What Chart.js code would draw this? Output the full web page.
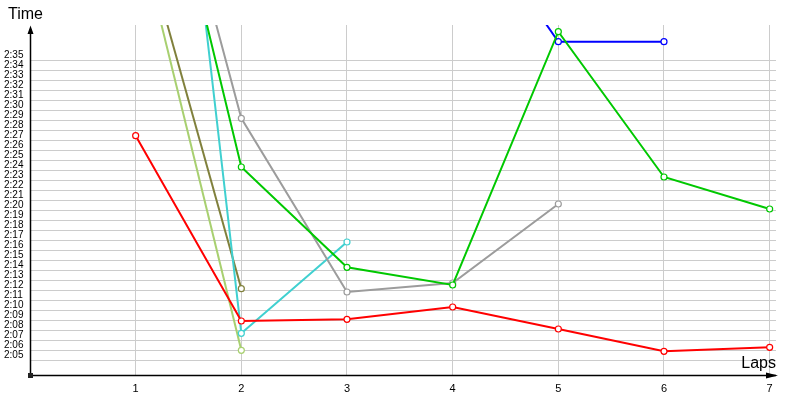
<!DOCTYPE html>
<html>
<head>
<meta charset="utf-8">
<script src="https://cdn.jsdelivr.net/npm/chart.js@4/dist/chart.umd.min.js"></script>
<style>
html,body{margin:0;padding:0;background:#fff;}
canvas{display:block;}
</style>
</head>
<body>
<canvas id="c" width="800" height="400"></canvas>
<script>
// Laps (x categories)
const laps = [1, 2, 3, 4, 5, 6, 7];
// Lap times in seconds (2:05 = 125); null = no lap
const redTimes = [147.0, 128.47, 128.64, 129.87, 127.67, 125.44, 125.84];
const greenTimes = [187.5, 143.87, 133.84, 132.07, 157.4, 142.87, 139.67];
const grayTimes = [188.1, 148.74, 131.37, 132.27, 140.17, null, null];
const cyanTimes = [219.0, 127.24, 136.37, null, null, null, null];
const oliveTimes = [169.4, 131.7, null, null, null, null, null];
const lightGreenTimes = [168.6, 125.54, null, null, null, null, null];
const blueTimes = [null, null, null, 171.6, 156.4, 156.4, null];
// Y tick labels (seconds)
const yLabelValues = [125,126,127,128,129,130,131,132,133,134,135,136,137,138,139,140,141,142,143,144,145,146,147,148,149,150,151,152,153,154,155];
const yGridValues = yLabelValues.map(v => v - 0.46);
const xTickValues = [1, 2, 3, 4, 5, 6, 7];

function fmt(v) {
  const m = Math.floor(v / 60);
  const s = Math.round(v - m * 60);
  return m + ':' + (s < 10 ? '0' : '') + s;
}
function series(times) {
  return laps.map((l, i) => ({ x: l, y: times[i] }));
}
function ds(times, color) {
  return {
    data: series(times),
    borderColor: color,
    backgroundColor: '#ffffff',
    borderWidth: 2,
    pointRadius: 3,
    pointBorderWidth: 1.2,
    pointBackgroundColor: '#ffffff',
    pointBorderColor: color,
    pointHoverRadius: 3,
    tension: 0,
    spanGaps: false
  };
}

const axesPlugin = {
  id: 'axesPlugin',
  afterDraw(chart) {
    const c = chart.ctx;
    const a = chart.chartArea;
    c.save();
    c.strokeStyle = '#000';
    c.fillStyle = '#000';
    c.lineWidth = 1.5;
    const x0 = Math.round(a.left) + 0.5;
    const y0 = Math.round(a.bottom) + 0.5;
    c.beginPath();
    c.moveTo(x0, y0);
    c.lineTo(x0, a.top + 4);
    c.stroke();
    c.beginPath();
    c.moveTo(x0, y0);
    c.lineTo(a.right, y0);
    c.stroke();
    // top arrow
    c.beginPath();
    c.moveTo(x0, a.top + 0.5);
    c.lineTo(x0 - 3, a.top + 9);
    c.lineTo(x0 + 3, a.top + 9);
    c.closePath();
    c.fill();
    // right arrow
    c.beginPath();
    c.moveTo(a.right + 2, y0);
    c.lineTo(a.right - 10, y0 - 3);
    c.lineTo(a.right - 10, y0 + 3);
    c.closePath();
    c.fill();
    // origin square
    c.fillStyle = '#222';
    c.fillRect(x0 - 2.5, y0 - 2.5, 5, 5);
    // axis titles
    c.fillStyle = '#000';
    c.font = '16px "Liberation Sans", Arial, sans-serif';
    c.textBaseline = 'middle';
    c.textAlign = 'left';
    c.fillText('Time', 8, 15);
    c.textAlign = 'right';
    c.fillText('Laps', 776, 364);
    c.restore();
  }
};

new Chart(document.getElementById('c'), {
  type: 'line',
  data: {
    datasets: [
      ds(redTimes, '#ff0000'),
      ds(greenTimes, '#00c800'),
      ds(grayTimes, '#9c9c9c'),
      ds(cyanTimes, '#40d0d0'),
      ds(oliveTimes, '#80803c'),
      ds(lightGreenTimes, '#a8d070'),
      ds(blueTimes, '#0000ff')
    ]
  },
  options: {
    responsive: false,
    animation: false,
    events: [],
    layout: { padding: { left: 4, top: 25, right: 24, bottom: 0 } },
    plugins: { legend: { display: false }, tooltip: { enabled: false } },
    scales: {
      x: {
        type: 'linear',
        min: 0,
        max: 7.06,
        afterBuildTicks(scale) { scale.ticks = xTickValues.map(v => ({ value: v })); },
        afterFit(scale) { scale.height = 25; },
        border: { display: false },
        grid: { color: '#cccccc', lineWidth: 1, drawTicks: false },
        ticks: {
          autoSkip: false,
          maxRotation: 0,
          padding: 7,
          color: '#000',
          font: { family: '"Liberation Sans", sans-serif', size: 11 },
          callback: v => String(v)
        }
      },
      y: {
        type: 'linear',
        min: 123.07,
        max: 158.07,
        afterBuildTicks(scale) {
          const vals = yGridValues.concat(yLabelValues).sort((p, q) => p - q);
          scale.ticks = vals.map(v => ({ value: v }));
        },
        afterFit(scale) { scale.width = 26; },
        border: { display: false },
        grid: {
          drawTicks: false,
          lineWidth: 1,
          color: ctx => (ctx.tick && Number.isInteger(ctx.tick.value)) ? 'rgba(0,0,0,0)' : '#cccccc'
        },
        ticks: {
          autoSkip: false,
          crossAlign: 'far',
          padding: 0,
          color: '#000',
          font: { family: '"Liberation Sans", sans-serif', size: 10 },
          callback: v => Number.isInteger(v) ? fmt(v) : ''
        }
      }
    }
  },
  plugins: [axesPlugin]
});
</script>
</body>
</html>
